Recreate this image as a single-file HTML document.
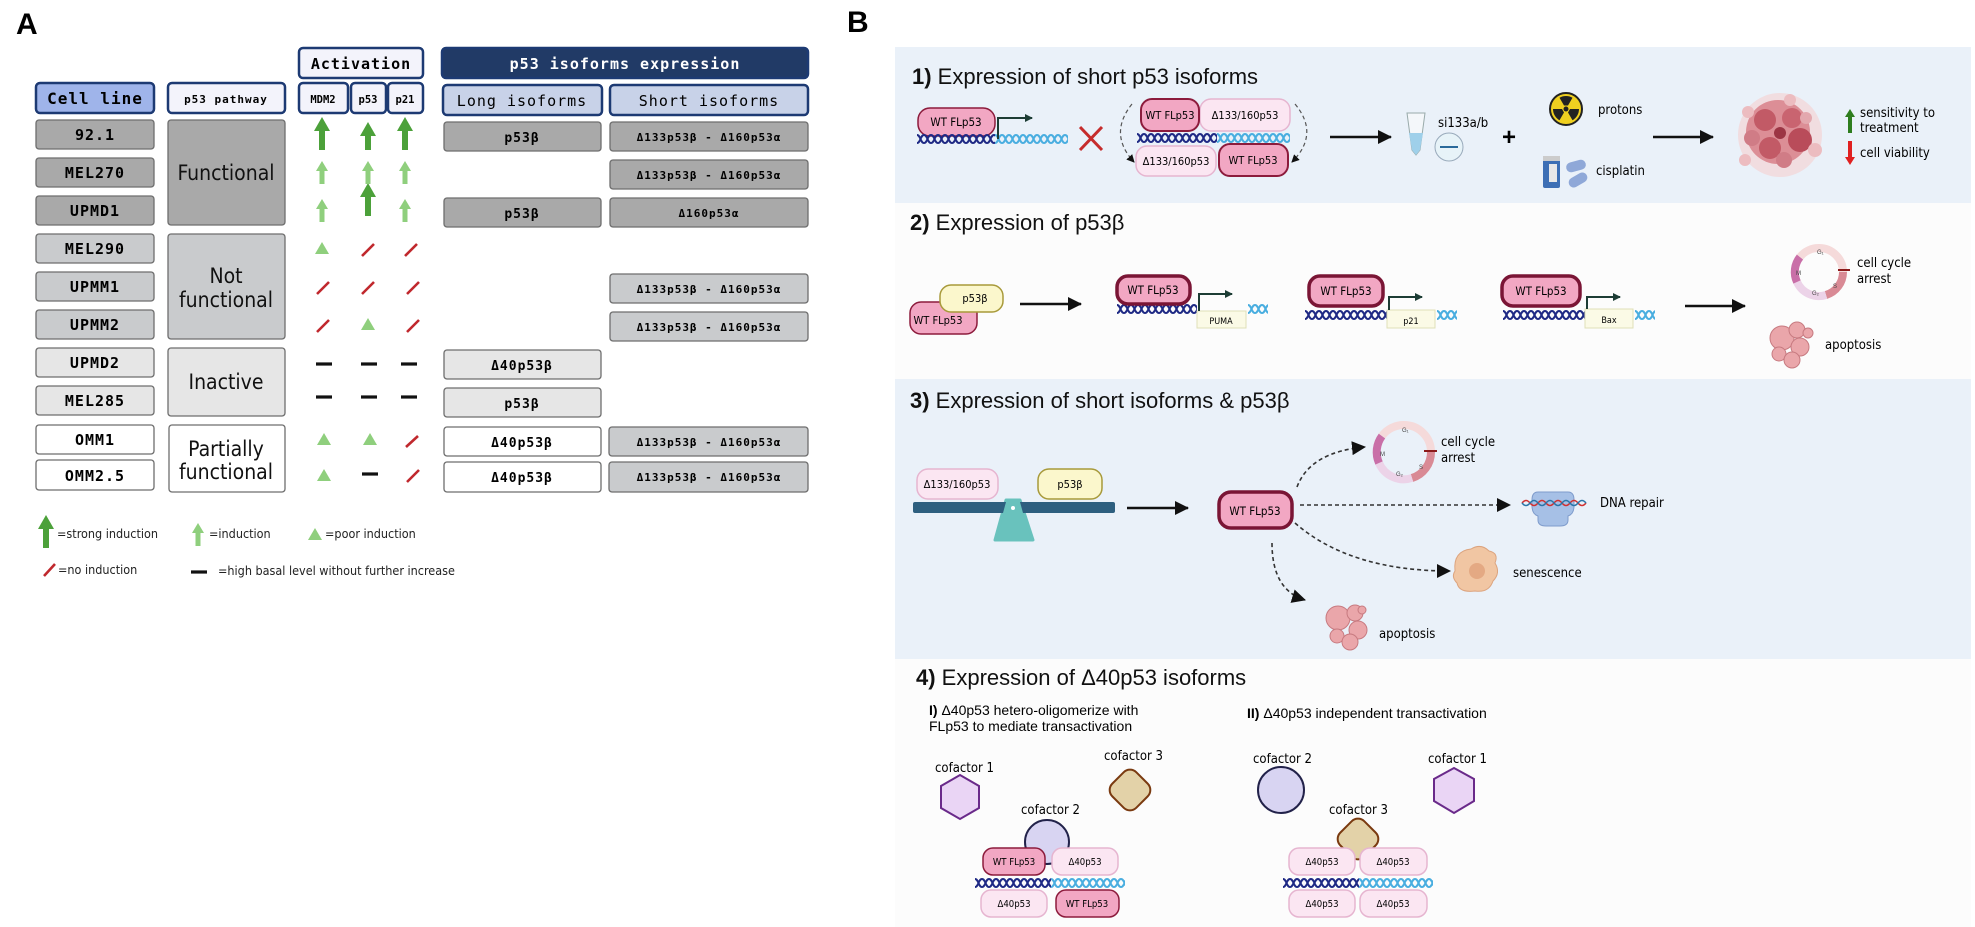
<!DOCTYPE html>
<html><head><meta charset="utf-8"><style>
html,body{margin:0;padding:0;background:#fff;}
svg{display:block;}
.m{font-family:"DejaVu Sans Mono","Liberation Mono",monospace;font-weight:bold;}
.s{font-family:"Liberation Sans",sans-serif;}
.c{font-family:"DejaVu Sans Condensed","Liberation Sans Narrow","Liberation Sans",sans-serif;}
</style></head><body>
<svg width="1975" height="927" viewBox="0 0 1975 927" xmlns="http://www.w3.org/2000/svg">
<defs>
<pattern id="dk" width="14" height="12" patternUnits="userSpaceOnUse"><path d="M0,2 C3.5,2 3.5,10 7,10 C10.5,10 10.5,2 14,2 M0,10 C3.5,10 3.5,2 7,2 C10.5,2 10.5,10 14,10" stroke="#1f2a85" stroke-width="2" fill="none"/></pattern>
<pattern id="lt" width="14" height="12" patternUnits="userSpaceOnUse"><path d="M0,2 C3.5,2 3.5,10 7,10 C10.5,10 10.5,2 14,2 M0,10 C3.5,10 3.5,2 7,2 C10.5,2 10.5,10 14,10" stroke="#4aaee0" stroke-width="2" fill="none"/></pattern>
<marker id="ah" markerWidth="8" markerHeight="8" refX="7" refY="4" orient="auto" markerUnits="userSpaceOnUse"><path d="M0,0 L8,4 L0,8 Z" fill="#111"/></marker>
<marker id="ahb" markerWidth="14" markerHeight="14" refX="13" refY="7" orient="auto" markerUnits="userSpaceOnUse"><path d="M0,0 L14,7 L0,14 Z" fill="#111"/></marker>
<marker id="ahg" markerWidth="8" markerHeight="8" refX="7" refY="4" orient="auto" markerUnits="userSpaceOnUse"><path d="M0,0 L8,4 L0,8 Z" fill="#1d3d35"/></marker>
</defs>

<!-- ================= PANEL A ================= -->
<text x="16" y="34" class="s" font-size="30" font-weight="bold">A</text>

<g stroke="#1d3a73" stroke-width="2.5">
<rect x="299" y="48" width="124" height="30" rx="4" fill="#f3f3fb"/>
<rect x="442" y="48" width="366" height="30" rx="4" fill="#213a66"/>
<rect x="36" y="83" width="118" height="30" rx="4" fill="#9fb4ea"/>
<rect x="168" y="83" width="117" height="30" rx="4" fill="#f3f3fb"/>
<rect x="299" y="83" width="49" height="30" rx="4" fill="#f3f3fb"/>
<rect x="351" y="83" width="35" height="30" rx="4" fill="#f3f3fb"/>
<rect x="388" y="83" width="35" height="30" rx="4" fill="#f3f3fb"/>
<rect x="443" y="85" width="159" height="30" rx="4" fill="#c8d2e8"/>
<rect x="610" y="85" width="198" height="30" rx="4" fill="#c8d2e8"/>
</g>
<g class="m" text-anchor="middle" letter-spacing="1">
<text x="361" y="69" font-size="15">Activation</text>
<text x="625" y="69" font-size="15" fill="#fff">p53 isoforms expression</text>
<text x="95" y="104" font-size="16" font-weight="normal" class="m">Cell line</text>
<text x="226" y="103" font-size="11">p53 pathway</text>
<text x="323" y="103" font-size="10.5" letter-spacing="0">MDM2</text>
<text x="368" y="103" font-size="10.5" letter-spacing="0">p53</text>
<text x="405" y="103" font-size="10.5" letter-spacing="0">p21</text>
<text x="522" y="106" font-size="15" font-weight="normal">Long isoforms</text>
<text x="709" y="106" font-size="15" font-weight="normal">Short isoforms</text>
</g>

<g stroke="#6e6e6e" stroke-width="1.3">
<rect x="36" y="120" width="118" height="29" rx="3" fill="#a9a9a9"/>
<rect x="36" y="158" width="118" height="29" rx="3" fill="#a9a9a9"/>
<rect x="36" y="196" width="118" height="29" rx="3" fill="#a9a9a9"/>
<rect x="36" y="234" width="118" height="29" rx="3" fill="#c9cbcd"/>
<rect x="36" y="272" width="118" height="29" rx="3" fill="#c9cbcd"/>
<rect x="36" y="310" width="118" height="29" rx="3" fill="#c9cbcd"/>
<rect x="36" y="348" width="118" height="29" rx="3" fill="#e6e6e6"/>
<rect x="36" y="386" width="118" height="29" rx="3" fill="#e6e6e6"/>
<rect x="36" y="425" width="118" height="29" rx="3" fill="#fff"/>
<rect x="36" y="460" width="118" height="30" rx="3" fill="#fff"/>
<rect x="168" y="120" width="117" height="105" rx="3" fill="#a9a9a9"/>
<rect x="168" y="234" width="117" height="105" rx="3" fill="#c9cbcd"/>
<rect x="168" y="348" width="117" height="68" rx="3" fill="#e6e6e6"/>
<rect x="169" y="425" width="116" height="67" rx="3" fill="#fff"/>
<rect x="444" y="122" width="157" height="29" rx="3" fill="#a9a9a9"/>
<rect x="444" y="198" width="157" height="29" rx="3" fill="#a9a9a9"/>
<rect x="444" y="350" width="157" height="29" rx="3" fill="#e6e6e6"/>
<rect x="444" y="388" width="157" height="29" rx="3" fill="#e6e6e6"/>
<rect x="444" y="427" width="157" height="29" rx="3" fill="#fff"/>
<rect x="444" y="462" width="157" height="30" rx="3" fill="#fff"/>
<rect x="610" y="122" width="198" height="29" rx="3" fill="#a9a9a9"/>
<rect x="610" y="160" width="198" height="29" rx="3" fill="#a9a9a9"/>
<rect x="610" y="198" width="198" height="29" rx="3" fill="#a9a9a9"/>
<rect x="610" y="274" width="198" height="29" rx="3" fill="#c9cbcd"/>
<rect x="610" y="312" width="198" height="29" rx="3" fill="#c9cbcd"/>
<rect x="609" y="427" width="199" height="29" rx="3" fill="#c9cbcd"/>
<rect x="609" y="462" width="199" height="30" rx="3" fill="#c9cbcd"/>
</g>
<g class="m" text-anchor="middle" font-size="15" letter-spacing="1">
<text x="95" y="140">92.1</text>
<text x="95" y="178">MEL270</text>
<text x="95" y="216">UPMD1</text>
<text x="95" y="254">MEL290</text>
<text x="95" y="292">UPMM1</text>
<text x="95" y="330">UPMM2</text>
<text x="95" y="368">UPMD2</text>
<text x="95" y="406">MEL285</text>
<text x="95" y="445">OMM1</text>
<text x="95" y="481">OMM2.5</text>
</g>
<g class="m" text-anchor="middle" font-size="13" letter-spacing="1">
<text x="522" y="142">p53β</text>
<text x="522" y="218">p53β</text>
<text x="522" y="370">Δ40p53β</text>
<text x="522" y="408">p53β</text>
<text x="522" y="447">Δ40p53β</text>
<text x="522" y="482">Δ40p53β</text>
</g>
<g class="m" text-anchor="middle" font-size="11" letter-spacing="1">
<text x="709" y="141">Δ133p53β - Δ160p53α</text>
<text x="709" y="179">Δ133p53β - Δ160p53α</text>
<text x="709" y="217">Δ160p53α</text>
<text x="709" y="293">Δ133p53β - Δ160p53α</text>
<text x="709" y="331">Δ133p53β - Δ160p53α</text>
<text x="709" y="446">Δ133p53β - Δ160p53α</text>
<text x="709" y="481">Δ133p53β - Δ160p53α</text>
</g>
<g class="c" text-anchor="middle" font-size="21" fill="#111">
<text x="226" y="180">Functional</text>
<text x="226" y="283">Not</text>
<text x="226" y="307">functional</text>
<text x="226" y="389">Inactive</text>
<text x="226" y="456">Partially</text>
<text x="226" y="479">functional</text>
</g>

<g fill="#4ca13a">
<path d="M322,117 l8,14 h-5 v19 h-6 v-19 h-5 z"/>
<path d="M368,122 l8,14 h-5 v14 h-6 v-14 h-5 z"/>
<path d="M405,117 l8,14 h-5 v19 h-6 v-19 h-5 z"/>
<path d="M368,183 l8,14 h-5 v19 h-6 v-19 h-5 z"/>
<path d="M46,515 l8,14 h-5 v19 h-6 v-19 h-5 z"/>
</g>
<g fill="#8fcf7d">
<path d="M322,161 l6,10 h-3.5 v13 h-5 v-13 h-3.5 z"/>
<path d="M368,161 l6,10 h-3.5 v13 h-5 v-13 h-3.5 z"/>
<path d="M405,161 l6,10 h-3.5 v13 h-5 v-13 h-3.5 z"/>
<path d="M322,199 l6,10 h-3.5 v13 h-5 v-13 h-3.5 z"/>
<path d="M405,199 l6,10 h-3.5 v13 h-5 v-13 h-3.5 z"/>
<path d="M198,523 l6,10 h-3.5 v13 h-5 v-13 h-3.5 z"/>
<path d="M322,242 l7,12 h-14 z"/>
<path d="M368,318 l7,12 h-14 z"/>
<path d="M324,433 l7,12 h-14 z"/>
<path d="M370,433 l7,12 h-14 z"/>
<path d="M324,469 l7,12 h-14 z"/>
<path d="M315,528 l7,12 h-14 z"/>
</g>
<g stroke="#c0282d" stroke-width="2.6">
<line x1="362" y1="256" x2="374" y2="244"/>
<line x1="405" y1="256" x2="417" y2="244"/>
<line x1="317" y1="294" x2="329" y2="282"/>
<line x1="362" y1="294" x2="374" y2="282"/>
<line x1="407" y1="294" x2="419" y2="282"/>
<line x1="317" y1="332" x2="329" y2="320"/>
<line x1="407" y1="332" x2="419" y2="320"/>
<line x1="406" y1="447" x2="418" y2="436"/>
<line x1="407" y1="482" x2="419" y2="470"/>
<line x1="44" y1="576" x2="55" y2="564"/>
</g>
<g stroke="#111" stroke-width="3.2">
<line x1="316" y1="364" x2="332" y2="364"/><line x1="361" y1="364" x2="377" y2="364"/><line x1="401" y1="364" x2="417" y2="364"/>
<line x1="316" y1="397" x2="332" y2="397"/><line x1="361" y1="397" x2="377" y2="397"/><line x1="401" y1="397" x2="417" y2="397"/>
<line x1="362" y1="474" x2="378" y2="474"/>
<line x1="191" y1="572" x2="207" y2="572"/>
</g>
<g class="c" font-size="12.5" fill="#222">
<text x="57" y="538">=strong induction</text>
<text x="209" y="538">=induction</text>
<text x="325" y="538">=poor induction</text>
<text x="58" y="574">=no induction</text>
<text x="218" y="575">=high basal level without further increase</text>
</g>

<!-- ================= PANEL B ================= -->
<text x="847" y="32" class="s" font-size="30" font-weight="bold">B</text>
<rect x="895" y="47" width="1076" height="156" fill="#eaf1f9"/>
<rect x="895" y="203" width="1076" height="176" fill="#fcfcfc"/>
<rect x="895" y="379" width="1076" height="280" fill="#eaf1f9"/>
<rect x="895" y="659" width="1076" height="268" fill="#fcfcfc"/>

<g class="s" font-size="22" fill="#111">
<text x="912" y="84"><tspan font-weight="bold">1)</tspan> Expression of short p53 isoforms</text>
<text x="910" y="230"><tspan font-weight="bold">2)</tspan> Expression of  p53β</text>
<text x="910" y="408"><tspan font-weight="bold">3)</tspan> Expression of short isoforms &amp; p53β</text>
<text x="916" y="685"><tspan font-weight="bold">4)</tspan> Expression of Δ40p53 isoforms</text>
</g>

<!-- Section 1 -->
<rect x="918" y="108" width="77" height="28" rx="12" fill="#f2a7c3" stroke="#8c1b3c" stroke-width="1.5"/>
<text x="956" y="126" class="c" font-size="11.5" text-anchor="middle">WT FLp53</text>
<g transform="translate(917,133)"><rect width="78" height="12" fill="url(#dk)"/></g>
<g transform="translate(995,133)"><rect width="73" height="12" fill="url(#lt)"/></g>
<path d="M998,139 V118 H1032" stroke="#1d3d35" stroke-width="2" fill="none" marker-end="url(#ahg)"/>
<g stroke="#c62c2c" stroke-width="3"><line x1="1080" y1="127" x2="1102" y2="150"/><line x1="1080" y1="150" x2="1102" y2="127"/></g>
<path d="M1132,104 Q1108,134 1134,162" stroke="#555" stroke-width="1.2" stroke-dasharray="4,3" fill="none" marker-end="url(#ah)"/>
<path d="M1295,104 Q1320,134 1292,162" stroke="#555" stroke-width="1.2" stroke-dasharray="4,3" fill="none" marker-end="url(#ah)"/>
<rect x="1200" y="99" width="90" height="32" rx="11" fill="#fbe6f2" stroke="#e6b5d0" stroke-width="1.5"/>
<rect x="1141" y="99" width="58" height="32" rx="11" fill="#f2a7c3" stroke="#8c1b3c" stroke-width="2"/>
<g transform="translate(1137,132)"><rect width="80" height="12" fill="url(#dk)"/></g>
<g transform="translate(1217,132)"><rect width="73" height="12" fill="url(#lt)"/></g>
<rect x="1136" y="146" width="80" height="30" rx="11" fill="#fbe6f2" stroke="#e6b5d0" stroke-width="1.5"/>
<rect x="1219" y="144" width="69" height="32" rx="11" fill="#f2a7c3" stroke="#8c1b3c" stroke-width="2"/>
<g class="c" font-size="11" text-anchor="middle">
<text x="1170" y="119">WT FLp53</text><text x="1245" y="119">Δ133/160p53</text>
<text x="1176" y="165">Δ133/160p53</text><text x="1253" y="164">WT FLp53</text>
</g>
<line x1="1330" y1="137" x2="1391" y2="137" stroke="#111" stroke-width="2.5" marker-end="url(#ahb)"/>
<path d="M1407,113 L1425,113 L1420,150 L1416,155 L1412,150 Z" fill="#f4f7fa" stroke="#9aa" stroke-width="1"/>
<path d="M1409,133 L1423,133 L1420,150 L1416,155 L1412,150 Z" fill="#9fd0ea"/>
<circle cx="1449" cy="147" r="14" fill="#e7f3f8" stroke="#9ab" stroke-width="1"/>
<line x1="1440" y1="147" x2="1458" y2="147" stroke="#2a6a9a" stroke-width="2"/>
<text x="1438" y="127" class="c" font-size="13">si133a/b</text>
<text x="1509" y="145" class="s" font-size="24" font-weight="bold" text-anchor="middle">+</text>
<circle cx="1566" cy="109" r="16" fill="#f0d020" stroke="#222" stroke-width="2"/>
<path d="M1564,105.5 L1559.5,97.7 A13,13 0 0 1 1572.5,97.7 L1568,105.5 Z M1570,109 L1579,109 A13,13 0 0 1 1572.5,120.3 L1568,112.5 Z M1564,112.5 L1559.5,120.3 A13,13 0 0 1 1553,109 L1562,109 Z" fill="#222"/>
<circle cx="1566" cy="109" r="2.5" fill="#222"/>
<text x="1598" y="114" class="c" font-size="13">protons</text>
<rect x="1543" y="158" width="17" height="30" rx="2" fill="#3d6fb5"/>
<rect x="1543" y="156" width="17" height="5" fill="#ccc"/>
<rect x="1549" y="164" width="8" height="18" fill="#e8e8e8"/>
<rect x="1566" y="161" width="20" height="10" rx="5" fill="#8fa8d8" transform="rotate(-15 1576 166)"/>
<rect x="1568" y="175" width="20" height="10" rx="5" fill="#8fa8d8" transform="rotate(-30 1578 180)"/>
<text x="1596" y="175" class="c" font-size="13">cisplatin</text>
<line x1="1653" y1="137" x2="1713" y2="137" stroke="#111" stroke-width="2.5" marker-end="url(#ahb)"/>
<g>
<circle cx="1780" cy="135" r="42" fill="#f3d4d6" opacity="0.7"/>
<circle cx="1778" cy="132" r="32" fill="#dc8e96"/>
<circle cx="1765" cy="120" r="11" fill="#c25a66"/><circle cx="1792" cy="118" r="10" fill="#c96470"/>
<circle cx="1800" cy="140" r="12" fill="#b94c5a"/><circle cx="1770" cy="148" r="11" fill="#c25a66"/>
<circle cx="1784" cy="160" r="8" fill="#d07c86"/><circle cx="1752" cy="138" r="8" fill="#d07c86"/>
<circle cx="1780" cy="133" r="6" fill="#9c3544"/><circle cx="1806" cy="118" r="6" fill="#e3a8ae"/>
<circle cx="1748" cy="112" r="6" fill="#ecbcc0"/><circle cx="1815" cy="150" r="7" fill="#ecbcc0"/>
<circle cx="1745" cy="160" r="6" fill="#ecbcc0"/><circle cx="1790" cy="100" r="6" fill="#ecbcc0"/>
</g>
<path d="M1850,109 l5,8 h-3 v16 h-4 v-16 h-3 z" fill="#2e7d1e"/>
<path d="M1850,165 l5,-8 h-3 v-16 h-4 v16 h-3 z" fill="#e02020"/>
<g class="c" font-size="13"><text x="1860" y="117">sensitivity to</text><text x="1860" y="132">treatment</text><text x="1860" y="157">cell viability</text></g>

<!-- Section 2 -->
<rect x="910" y="302" width="67" height="32" rx="11" fill="#f2a7c3" stroke="#8c1b3c" stroke-width="1.5"/>
<rect x="940" y="285" width="63" height="27" rx="11" fill="#fbf7cc" stroke="#a89a3a" stroke-width="1.5"/>
<text x="938" y="324" class="c" font-size="11" text-anchor="middle">WT FLp53</text>
<text x="975" y="302" class="c" font-size="11" text-anchor="middle">p53β</text>
<line x1="1020" y1="304" x2="1081" y2="304" stroke="#111" stroke-width="2.5" marker-end="url(#ahb)"/>

<g transform="translate(1117,303)"><rect width="80" height="12" fill="url(#dk)"/></g>
<rect x="1117" y="276" width="73" height="28" rx="11" fill="#f2a7c3" stroke="#7a1535" stroke-width="3.5"/>
<rect x="1197" y="311" width="49" height="17" fill="#fbfae6" stroke="#dfe0b8"/>
<g transform="translate(1248,303)"><rect width="20" height="12" fill="url(#lt)"/></g>
<path d="M1199,311 V294 H1232" stroke="#1d3d35" stroke-width="2" fill="none" marker-end="url(#ahg)"/>
<text x="1221" y="324" class="c" font-size="9" text-anchor="middle">PUMA</text>

<g transform="translate(1305,309)"><rect width="82" height="12" fill="url(#dk)"/></g>
<rect x="1309" y="276" width="74" height="30" rx="11" fill="#f2a7c3" stroke="#7a1535" stroke-width="3.5"/>
<rect x="1387" y="310" width="48" height="18" fill="#fbfae6" stroke="#dfe0b8"/>
<g transform="translate(1437,309)"><rect width="20" height="12" fill="url(#lt)"/></g>
<path d="M1389,310 V297 H1422" stroke="#1d3d35" stroke-width="2" fill="none" marker-end="url(#ahg)"/>
<text x="1411" y="324" class="c" font-size="9" text-anchor="middle">p21</text>

<g transform="translate(1503,309)"><rect width="82" height="12" fill="url(#dk)"/></g>
<rect x="1502" y="276" width="78" height="30" rx="11" fill="#f2a7c3" stroke="#7a1535" stroke-width="3.5"/>
<rect x="1585" y="309" width="48" height="19" fill="#fbfae6" stroke="#dfe0b8"/>
<g transform="translate(1635,309)"><rect width="20" height="12" fill="url(#lt)"/></g>
<path d="M1587,309 V297 H1620" stroke="#1d3d35" stroke-width="2" fill="none" marker-end="url(#ahg)"/>
<text x="1609" y="323" class="c" font-size="9" text-anchor="middle">Bax</text>
<g class="c" font-size="11.5" text-anchor="middle">
<text x="1153" y="294">WT FLp53</text><text x="1346" y="295">WT FLp53</text><text x="1541" y="295">WT FLp53</text>
</g>
<line x1="1685" y1="306" x2="1745" y2="306" stroke="#111" stroke-width="2.5" marker-end="url(#ahb)"/>

<g fill="none" stroke-width="8">
<path d="M1819,248 A24,24 0 0 1 1843,272" stroke="#f5dada"/>
<path d="M1843,272 A24,24 0 0 1 1826,295" stroke="#d98a95"/>
<path d="M1826,295 A24,24 0 0 1 1797,282" stroke="#ecd3e8"/>
<path d="M1797,282 A24,24 0 0 1 1800,257" stroke="#c96fa8"/>
<path d="M1800,257 A24,24 0 0 1 1819,248" stroke="#f5dada"/>
</g>
<line x1="1838" y1="270" x2="1850" y2="270" stroke="#8b1a1a" stroke-width="2"/>
<g class="s" font-size="6" fill="#444"><text x="1817" y="254">G₁</text><text x="1796" y="275">M</text><text x="1833" y="288">S</text><text x="1812" y="295">G₂</text></g>
<g class="c" font-size="13"><text x="1857" y="267">cell cycle</text><text x="1857" y="283">arrest</text></g>
<g fill="#eaa6aa" stroke="#c77a80" stroke-width="1">
<circle cx="1782" cy="338" r="12"/><circle cx="1797" cy="330" r="8"/><circle cx="1800" cy="347" r="9"/><circle cx="1779" cy="354" r="7"/><circle cx="1792" cy="360" r="8"/><circle cx="1808" cy="333" r="5"/>
</g>
<text x="1825" y="349" class="c" font-size="13">apoptosis</text>

<!-- Section 3 -->
<rect x="917" y="469" width="81" height="30" rx="11" fill="#fbe6f2" stroke="#e6b5d0" stroke-width="1.5"/>
<rect x="1038" y="469" width="64" height="30" rx="11" fill="#fbf7cc" stroke="#a89a3a" stroke-width="1.5"/>
<text x="957" y="488" class="c" font-size="11" text-anchor="middle">Δ133/160p53</text>
<text x="1070" y="488" class="c" font-size="11" text-anchor="middle">p53β</text>
<path d="M1006,500 L1020,500 L1033,540 L995,540 Z" fill="#69c2bd" stroke="#69c2bd" stroke-linejoin="round" stroke-width="3"/>
<rect x="913" y="502" width="202" height="11" rx="2" fill="#2e5f7f"/>
<path d="M1006,502 L1020,502 L1023,513 L1003,513 Z" fill="#69c2bd"/>
<circle cx="1013" cy="508" r="2" fill="#fff"/>
<line x1="1127" y1="508" x2="1188" y2="508" stroke="#111" stroke-width="2.5" marker-end="url(#ahb)"/>
<rect x="1219" y="492" width="73" height="36" rx="12" fill="#f2a7c3" stroke="#7a1535" stroke-width="3.5"/>
<text x="1255" y="515" class="c" font-size="11.5" text-anchor="middle">WT FLp53</text>
<g stroke="#333" stroke-width="1.6" stroke-dasharray="4,3" fill="none">
<path d="M1297,487 Q1310,452 1365,447" marker-end="url(#ahb)"/>
<path d="M1300,505 L1510,505" marker-end="url(#ahb)"/>
<path d="M1295,523 Q1350,571 1450,571" marker-end="url(#ahb)"/>
<path d="M1272,543 Q1272,590 1305,600" marker-end="url(#ahb)"/>
</g>
<g fill="none" stroke-width="8">
<path d="M1404,425 A27,27 0 0 1 1431,452" stroke="#f5dada"/>
<path d="M1431,452 A27,27 0 0 1 1412,478" stroke="#d98a95"/>
<path d="M1412,478 A27,27 0 0 1 1379,463" stroke="#ecd3e8"/>
<path d="M1379,463 A27,27 0 0 1 1382,436" stroke="#c96fa8"/>
<path d="M1382,436 A27,27 0 0 1 1404,425" stroke="#f5dada"/>
</g>
<line x1="1424" y1="451" x2="1437" y2="451" stroke="#8b1a1a" stroke-width="2"/>
<g class="s" font-size="6" fill="#444"><text x="1402" y="432">G₁</text><text x="1380" y="456">M</text><text x="1419" y="469">S</text><text x="1396" y="476">G₂</text></g>
<g class="c" font-size="13"><text x="1441" y="446">cell cycle</text><text x="1441" y="462">arrest</text></g>
<path d="M1538,492 h30 q6,0 6,8 v6 q0,8 -6,10 v4 q0,6 -8,6 h-14 q-8,0 -8,-6 v-4 q-6,-2 -6,-10 v-6 q0,-8 6,-8z" fill="#a6c0e6" stroke="#7f9ccc"/>
<path d="M1522,503 q4,-5 8,0 t8,0 t8,0 t8,0 t8,0 t8,0 t8,0 t8,0" stroke="#d03030" stroke-width="1.5" fill="none"/>
<path d="M1522,503 q4,5 8,0 t8,0 t8,0 t8,0 t8,0 t8,0 t8,0 t8,0" stroke="#2a75a8" stroke-width="1.5" fill="none"/>
<text x="1600" y="507" class="c" font-size="13">DNA repair</text>
<path d="M1455,571 q-2,-20 16,-22 q10,-6 18,2 q10,2 6,12 q6,10 -2,18 q-4,12 -18,10 q-16,2 -18,-8 q-6,-6 -2,-12z" fill="#f1c6a3" stroke="#dca47f"/>
<circle cx="1477" cy="571" r="8" fill="#e4a983"/>
<text x="1513" y="577" class="c" font-size="13">senescence</text>
<g fill="#eaa6aa" stroke="#c77a80" stroke-width="1">
<circle cx="1338" cy="618" r="12"/><circle cx="1355" cy="613" r="8"/><circle cx="1358" cy="630" r="9"/><circle cx="1337" cy="636" r="7"/><circle cx="1350" cy="642" r="8"/><circle cx="1362" cy="610" r="4"/>
</g>
<text x="1379" y="638" class="c" font-size="13">apoptosis</text>

<!-- Section 4 -->
<g class="s" font-size="14">
<text x="929" y="715"><tspan font-weight="bold">I)</tspan> Δ40p53 hetero-oligomerize with</text>
<text x="929" y="731">FLp53 to mediate transactivation</text>
<text x="1247" y="718"><tspan font-weight="bold">II)</tspan> Δ40p53 independent transactivation</text>
</g>
<g class="c" font-size="13">
<text x="935" y="772">cofactor 1</text><text x="1104" y="760">cofactor 3</text><text x="1021" y="814">cofactor 2</text>
<text x="1253" y="763">cofactor 2</text><text x="1428" y="763">cofactor 1</text><text x="1329" y="814">cofactor 3</text>
</g>
<polygon points="960,775 979,786 979,808 960,819 941,808 941,786" fill="#ead5f5" stroke="#6a2a8a" stroke-width="2"/>
<polygon points="1454,768 1474,779 1474,801 1454,813 1434,801 1434,779" fill="#ead5f5" stroke="#6a2a8a" stroke-width="2"/>
<rect x="1113" y="773" width="34" height="34" rx="9" fill="#e3d2a8" stroke="#7a3a10" stroke-width="2" transform="rotate(45 1130 790)"/>
<rect x="1341" y="822" width="34" height="34" rx="9" fill="#e3d2a8" stroke="#7a3a10" stroke-width="2" transform="rotate(45 1358 839)"/>
<circle cx="1047" cy="842" r="22" fill="#d8d4f2" stroke="#22224a" stroke-width="2"/>
<circle cx="1281" cy="790" r="23" fill="#d8d4f2" stroke="#22224a" stroke-width="2"/>
<g transform="translate(975,877)"><rect width="76" height="12" fill="url(#dk)"/></g>
<g transform="translate(1051,877)"><rect width="74" height="12" fill="url(#lt)"/></g>
<g transform="translate(1283,877)"><rect width="76" height="12" fill="url(#dk)"/></g>
<g transform="translate(1359,877)"><rect width="74" height="12" fill="url(#lt)"/></g>
<g stroke-width="1.5">
<rect x="983" y="848" width="62" height="27" rx="10" fill="#f2a7c3" stroke="#8c1b3c"/>
<rect x="1052" y="848" width="66" height="27" rx="10" fill="#fbe6f2" stroke="#e6b5d0"/>
<rect x="981" y="890" width="66" height="27" rx="10" fill="#fbe6f2" stroke="#e6b5d0"/>
<rect x="1056" y="890" width="63" height="27" rx="10" fill="#f2a7c3" stroke="#8c1b3c"/>
<rect x="1289" y="848" width="66" height="27" rx="10" fill="#fbe6f2" stroke="#e6b5d0"/>
<rect x="1360" y="848" width="67" height="27" rx="10" fill="#fbe6f2" stroke="#e6b5d0"/>
<rect x="1289" y="890" width="66" height="27" rx="10" fill="#fbe6f2" stroke="#e6b5d0"/>
<rect x="1360" y="890" width="67" height="27" rx="10" fill="#fbe6f2" stroke="#e6b5d0"/>
</g>
<g class="c" font-size="9.5" text-anchor="middle">
<text x="1014" y="865">WT FLp53</text><text x="1085" y="865">Δ40p53</text>
<text x="1014" y="907">Δ40p53</text><text x="1087" y="907">WT FLp53</text>
<text x="1322" y="865">Δ40p53</text><text x="1393" y="865">Δ40p53</text>
<text x="1322" y="907">Δ40p53</text><text x="1393" y="907">Δ40p53</text>
</g>
</svg>
</body></html>
